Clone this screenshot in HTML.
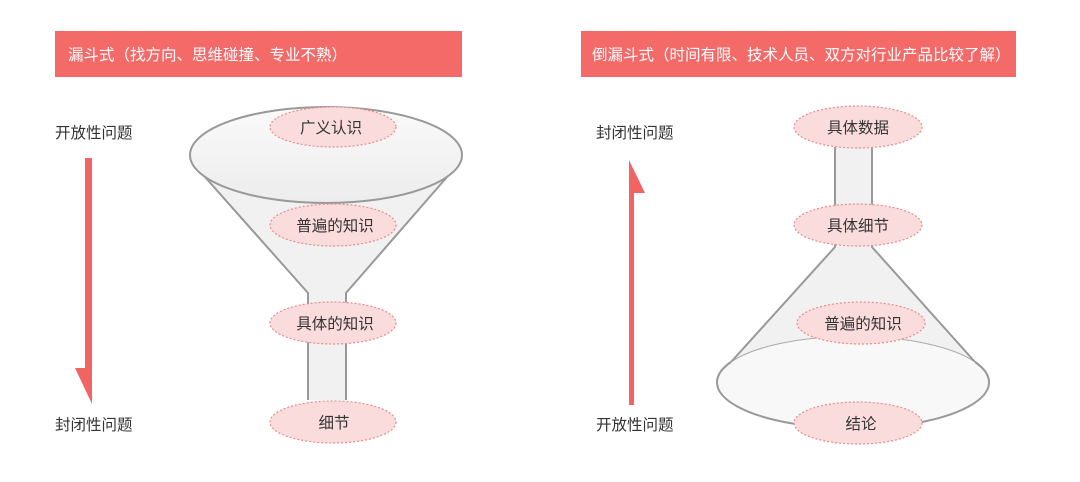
<!DOCTYPE html>
<html><head><meta charset="utf-8"><style>
body{margin:0;background:#fff;width:1080px;height:477px;overflow:hidden;font-family:"Liberation Sans","Noto Sans CJK SC",sans-serif;}
</style></head><body>
<svg width="1080" height="477" xmlns="http://www.w3.org/2000/svg" font-family="Liberation Sans, Noto Sans CJK SC, sans-serif">
<defs>
<linearGradient id="g" x1="0" y1="0" x2="0" y2="1"><stop offset="0" stop-color="#fafafa"/><stop offset="1" stop-color="#ececec"/></linearGradient>
</defs>
<rect x="55" y="31" width="407" height="46" fill="#f46a68"/>
<text x="68" y="60" font-size="15.5" fill="#fff">漏斗式（找方向、思维碰撞、专业不熟）</text>
<rect x="581" y="31" width="435" height="46" fill="#f46a68"/>
<text x="592" y="60" font-size="15.5" fill="#fff">倒漏斗式（时间有限、技术人员、双方对行业产品比较了解）</text>

<text x="55" y="138" font-size="15.5" fill="#333">开放性问题</text>
<text x="55" y="430" font-size="15.5" fill="#333">封闭性问题</text>
<path d="M85 158 H92 V404 L75 368 H85 Z" fill="#f06464"/>

<path d="M205 177 L308 293 V400 H346 V293 L447 177 Z" fill="#f1f1f1"/>
<path d="M205 177 L308 293 V400 M346 400 V293 L447 177" fill="none" stroke="#999" stroke-width="2"/>
<ellipse cx="326" cy="155" rx="136" ry="48" fill="url(#g)" stroke="#999" stroke-width="2"/>

<text x="596" y="138" font-size="15.5" fill="#333">封闭性问题</text>
<text x="596" y="430" font-size="15.5" fill="#333">开放性问题</text>
<path d="M629 405 H634 V193 H645 L629 160 Z" fill="#f06464"/>

<ellipse cx="853" cy="382" rx="136" ry="46" fill="#f6f6f6" stroke="#999" stroke-width="1.5"/>
<path d="M835 147 V247 L731 362 A136 46 0 0 0 975 362 L872 247 V147 Z" fill="#f1f1f1"/>
<path d="M731 362 A136 46 0 0 1 975 362" fill="#f8f8f8" stroke="#aaa" stroke-width="1"/>
<path d="M835 147 V247 L731 362 M975 362 L872 247 V147" fill="none" stroke="#999" stroke-width="2"/>
<path d="M731 362 A136 46 0 1 0 975 362" fill="#f8f8f8" stroke="#999" stroke-width="2"/>

<g fill="#fbdcdc" stroke="#e98a8a" stroke-width="1.2" stroke-dasharray="2,2">
<ellipse cx="333" cy="127" rx="63" ry="20"/>
<ellipse cx="333" cy="225" rx="63" ry="21"/>
<ellipse cx="333" cy="323" rx="63" ry="21"/>
<ellipse cx="333" cy="422" rx="63" ry="21"/>
<ellipse cx="858" cy="127" rx="64" ry="21"/>
<ellipse cx="858" cy="225" rx="64" ry="21"/>
<ellipse cx="861" cy="323" rx="64" ry="21"/>
<ellipse cx="858" cy="423" rx="64" ry="21"/>
</g>
<g font-size="15.5" fill="#333" text-anchor="middle">
<text x="331" y="133">广义认识</text>
<text x="335" y="231">普遍的知识</text>
<text x="335" y="329">具体的知识</text>
<text x="334" y="428">细节</text>
<text x="858" y="133">具体数据</text>
<text x="858" y="231">具体细节</text>
<text x="863" y="329">普遍的知识</text>
<text x="861" y="429">结论</text>
</g>
</svg>
</body></html>
